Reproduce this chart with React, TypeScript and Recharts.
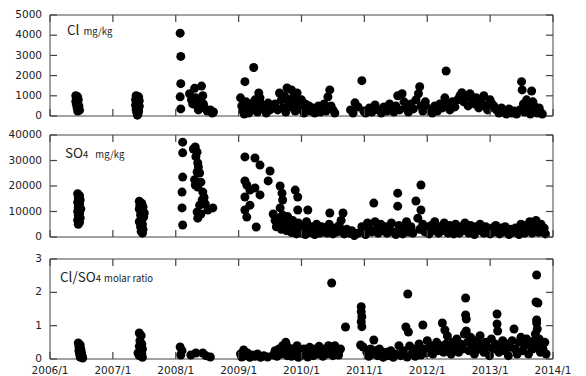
import { Scatter, ScatterChart, XAxis, YAxis } from 'recharts';

const yearTicks = [2006, 2007, 2008, 2009, 2010, 2011, 2012, 2013, 2014];
const clTicks = [0, 1000, 2000, 3000, 4000, 5000];
const so4Ticks = [0, 10000, 20000, 30000, 40000];
const ratioTicks = [0, 1, 2, 3];

// [decimal year, value]
const clPoints: [number, number][] = [
  [2006.41, 1000], [2006.44, 950], [2006.42, 880], [2006.45, 800], [2006.41, 720], [2006.44, 650],
  [2006.42, 580], [2006.46, 500], [2006.43, 420], [2006.45, 350], [2006.47, 290], [2006.44, 250],
  [2007.37, 1000], [2007.41, 950], [2007.39, 880], [2007.36, 800], [2007.42, 760], [2007.38, 700],
  [2007.4, 620], [2007.36, 540], [2007.42, 480], [2007.39, 400], [2007.37, 320], [2007.41, 250],
  [2007.38, 180], [2007.4, 110], [2007.39, 40],
  [2008.07, 4100], [2008.08, 2950], [2008.08, 1600], [2008.07, 950], [2008.08, 350],
  [2008.22, 1100], [2008.25, 800], [2008.27, 600], [2008.3, 1370], [2008.32, 900], [2008.34, 500],
  [2008.36, 300], [2008.38, 700], [2008.41, 1480], [2008.43, 1000], [2008.44, 600], [2008.46, 400],
  [2008.5, 250], [2008.55, 300], [2008.58, 150], [2008.6, 200],
  [2009.03, 900], [2009.05, 500], [2009.07, 250], [2009.09, 100], [2009.1, 1700], [2009.12, 700],
  [2009.14, 400], [2009.16, 150], [2009.19, 600], [2009.22, 300], [2009.24, 2400], [2009.26, 800],
  [2009.28, 500], [2009.3, 200], [2009.32, 1140], [2009.34, 900], [2009.36, 600], [2009.4, 350],
  [2009.44, 150], [2009.47, 640], [2009.5, 300],
  [2009.58, 600], [2009.62, 300], [2009.65, 1140], [2009.68, 800], [2009.7, 400], [2009.73, 1000],
  [2009.75, 200], [2009.77, 1390], [2009.79, 700], [2009.81, 450], [2009.84, 1290], [2009.86, 900],
  [2009.88, 500], [2009.9, 250], [2009.93, 1140], [2009.95, 700], [2009.97, 350], [2010.0, 800],
  [2010.02, 450], [2010.04, 150], [2010.06, 600], [2010.08, 300],
  [2010.12, 500], [2010.15, 250], [2010.18, 400], [2010.21, 150], [2010.24, 300], [2010.27, 500],
  [2010.3, 200], [2010.33, 350], [2010.36, 600], [2010.39, 250], [2010.42, 950], [2010.45, 1290],
  [2010.47, 500], [2010.5, 300], [2010.53, 150],
  [2010.78, 300], [2010.82, 150], [2010.85, 650], [2010.9, 450], [2010.96, 1750], [2010.99, 250],
  [2011.02, 150], [2011.08, 400], [2011.12, 200], [2011.17, 550], [2011.22, 300], [2011.27, 150],
  [2011.31, 450], [2011.36, 250], [2011.4, 600], [2011.43, 350], [2011.47, 200],
  [2011.5, 500], [2011.53, 1000], [2011.56, 300], [2011.6, 1100], [2011.63, 700], [2011.66, 400],
  [2011.7, 200], [2011.74, 600], [2011.78, 350], [2011.82, 800], [2011.86, 1100], [2011.88, 1450],
  [2011.9, 500], [2011.93, 250], [2011.97, 700], [2012.0, 400],
  [2012.05, 300], [2012.08, 150], [2012.12, 500], [2012.16, 250], [2012.2, 600], [2012.24, 400],
  [2012.28, 900], [2012.3, 2230], [2012.33, 600], [2012.36, 300], [2012.4, 700], [2012.44, 450],
  [2012.48, 800], [2012.52, 1000], [2012.55, 1150], [2012.58, 700], [2012.62, 950], [2012.65, 500],
  [2012.68, 1100], [2012.72, 800], [2012.75, 600], [2012.78, 900], [2012.82, 400], [2012.86, 700],
  [2012.9, 1000], [2012.93, 500], [2012.96, 300], [2013.0, 800], [2013.03, 600],
  [2013.06, 500], [2013.1, 300], [2013.14, 150], [2013.18, 400], [2013.22, 200], [2013.26, 100],
  [2013.3, 350], [2013.34, 150], [2013.38, 250], [2013.42, 100],
  [2013.47, 300], [2013.5, 1700], [2013.51, 1290], [2013.53, 600], [2013.55, 200], [2013.58, 800],
  [2013.61, 400], [2013.64, 100], [2013.66, 1240], [2013.68, 700], [2013.7, 500], [2013.72, 300],
  [2013.75, 150], [2013.78, 400], [2013.8, 200], [2013.83, 100],
];

const so4Points: [number, number][] = [
  [2006.44, 17000], [2006.47, 16200], [2006.45, 15300], [2006.48, 14500], [2006.44, 13600],
  [2006.47, 12800], [2006.45, 11800], [2006.49, 11000], [2006.44, 10000], [2006.47, 9200],
  [2006.45, 8400], [2006.48, 7500], [2006.44, 6600], [2006.47, 5800], [2006.45, 5000],
  [2007.42, 14000], [2007.46, 13200], [2007.43, 12500], [2007.48, 11800], [2007.42, 11000],
  [2007.46, 10200], [2007.5, 9400], [2007.44, 8600], [2007.49, 7800], [2007.45, 7000],
  [2007.42, 6000], [2007.47, 5000], [2007.44, 4000], [2007.48, 3000], [2007.45, 2200], [2007.47, 1500],
  [2008.11, 37200], [2008.11, 33000], [2008.11, 23500], [2008.1, 17600], [2008.1, 11400], [2008.11, 4700],
  [2008.28, 34500], [2008.31, 35300], [2008.34, 33300], [2008.32, 31500], [2008.35, 29000],
  [2008.36, 27500], [2008.34, 25500], [2008.38, 25100], [2008.3, 22500], [2008.4, 21500],
  [2008.31, 20400], [2008.35, 19600], [2008.43, 17600], [2008.45, 15500], [2008.42, 14500],
  [2008.47, 13000], [2008.38, 12500], [2008.51, 10600], [2008.59, 11400], [2008.34, 9800],
  [2008.4, 9000], [2008.35, 7400],
  [2009.1, 31400], [2009.26, 31000], [2009.34, 28200], [2009.5, 25900], [2009.47, 22000],
  [2009.1, 22000], [2009.13, 20400], [2009.18, 18400], [2009.26, 19200], [2009.1, 15700],
  [2009.34, 16500], [2009.18, 12500], [2009.1, 10600], [2009.13, 7800], [2009.28, 3900],
  [2009.66, 20000], [2009.69, 17200], [2009.7, 14500], [2009.66, 11400], [2009.7, 8600],
  [2009.9, 18400], [2009.94, 15700], [2009.94, 10600], [2010.1, 10600], [2010.45, 9400], [2010.66, 9400],
  [2009.55, 9000], [2009.58, 6500], [2009.6, 4000], [2009.63, 7500], [2009.66, 5500], [2009.68, 3000],
  [2009.72, 6000], [2009.74, 4500], [2009.76, 2500], [2009.78, 8000], [2009.8, 5000], [2009.82, 3500],
  [2009.84, 1800], [2009.86, 6500], [2009.88, 4000], [2009.9, 2500], [2009.92, 1200], [2009.95, 5500],
  [2009.97, 3000], [2010.0, 1500], [2010.02, 4500], [2010.04, 2500], [2010.06, 1000], [2010.08, 6000],
  [2010.11, 3500], [2010.13, 1800], [2010.16, 4000], [2010.18, 2200], [2010.21, 1000], [2010.24, 5000],
  [2010.27, 3000], [2010.29, 1500], [2010.32, 4000], [2010.35, 2000], [2010.38, 3500], [2010.41, 1500],
  [2010.44, 5000], [2010.47, 2500], [2010.5, 1200], [2010.53, 3500], [2010.57, 2000], [2010.6, 4500],
  [2010.63, 6500], [2010.65, 2500], [2010.68, 1200], [2010.72, 3000], [2010.76, 1500], [2010.8, 2500],
  [2010.84, 600], [2010.9, 1500], [2010.96, 4000], [2010.99, 2500], [2011.02, 1000], [2011.05, 5500],
  [2011.08, 3500], [2011.12, 2000], [2011.15, 13300], [2011.17, 6000], [2011.2, 3000], [2011.22, 1500],
  [2011.26, 5000], [2011.29, 2500], [2011.33, 4000], [2011.36, 1500], [2011.4, 3000], [2011.43, 5500],
  [2011.46, 2000], [2011.5, 1000], [2011.53, 17200], [2011.53, 12100], [2011.55, 4500], [2011.58, 2500],
  [2011.61, 1200], [2011.64, 3500], [2011.67, 6000], [2011.7, 2000], [2011.74, 4000], [2011.77, 1500],
  [2011.82, 14100], [2011.85, 7400], [2011.88, 3000], [2011.9, 20400], [2011.9, 10600], [2011.93, 5000],
  [2011.96, 2000], [2012.0, 3500], [2012.03, 1200], [2012.06, 4500], [2012.09, 2500], [2012.12, 6000],
  [2012.15, 3500], [2012.18, 1500], [2012.21, 4000], [2012.24, 2500], [2012.27, 5500], [2012.3, 3000],
  [2012.33, 1500], [2012.36, 4500], [2012.39, 2500], [2012.42, 1200], [2012.45, 5000], [2012.48, 3000],
  [2012.51, 1500], [2012.54, 4000], [2012.57, 2500], [2012.6, 5500], [2012.63, 3500], [2012.66, 1500],
  [2012.69, 4500], [2012.72, 2500], [2012.75, 1000], [2012.78, 4000], [2012.81, 2500], [2012.84, 5000],
  [2012.87, 3000], [2012.9, 1500], [2012.93, 4000], [2012.96, 2500], [2013.0, 1200], [2013.03, 3500],
  [2013.06, 2000], [2013.09, 4500], [2013.12, 2500], [2013.15, 1200], [2013.18, 3500], [2013.21, 2000],
  [2013.24, 4000], [2013.27, 2500], [2013.3, 1000], [2013.33, 3000], [2013.36, 1800], [2013.4, 3500],
  [2013.43, 2000], [2013.46, 1000], [2013.49, 5000], [2013.52, 3000], [2013.55, 1500], [2013.57, 4500],
  [2013.6, 2500], [2013.63, 6000], [2013.65, 3500], [2013.67, 1500], [2013.69, 5000], [2013.71, 2500],
  [2013.73, 6500], [2013.75, 4000], [2013.77, 1800], [2013.79, 3000], [2013.81, 5000], [2013.83, 2000],
  [2013.86, 3500], [2013.88, 1200],
];

const ratioPoints: [number, number][] = [
  [2006.45, 0.48], [2006.48, 0.42], [2006.46, 0.36], [2006.49, 0.3], [2006.46, 0.25], [2006.5, 0.2],
  [2006.47, 0.15], [2006.51, 0.1], [2006.48, 0.06], [2006.52, 0.03],
  [2007.42, 0.78], [2007.45, 0.7], [2007.43, 0.55], [2007.46, 0.45], [2007.42, 0.38], [2007.47, 0.3],
  [2007.43, 0.22], [2007.46, 0.15], [2007.42, 0.1], [2007.47, 0.05], [2007.4, 0.18],
  [2008.07, 0.36], [2008.08, 0.12], [2008.1, 0.25], [2008.24, 0.12], [2008.32, 0.18], [2008.43, 0.18],
  [2008.55, 0.06], [2008.48, 0.1],
  [2009.03, 0.15], [2009.05, 0.06], [2009.08, 0.27], [2009.1, 0.1], [2009.14, 0.18], [2009.18, 0.05],
  [2009.22, 0.12], [2009.26, 0.08], [2009.3, 0.15], [2009.35, 0.05], [2009.4, 0.1], [2009.46, 0.06],
  [2009.55, 0.12], [2009.58, 0.25], [2009.61, 0.08], [2009.64, 0.3], [2009.67, 0.15], [2009.7, 0.4],
  [2009.72, 0.2], [2009.75, 0.5], [2009.77, 0.1], [2009.79, 0.35], [2009.82, 0.22], [2009.84, 0.08],
  [2009.87, 0.3], [2009.9, 0.15], [2009.93, 0.4], [2009.95, 0.05], [2009.98, 0.25], [2010.01, 0.12],
  [2010.04, 0.3], [2010.07, 0.18], [2010.1, 0.06], [2010.13, 0.35], [2010.16, 0.2], [2010.19, 0.1],
  [2010.22, 0.3], [2010.25, 0.15], [2010.28, 0.38], [2010.31, 0.22], [2010.34, 0.08], [2010.37, 0.3],
  [2010.4, 0.15], [2010.43, 0.4], [2010.46, 0.25], [2010.48, 2.28], [2010.5, 0.1], [2010.53, 0.4],
  [2010.56, 0.25], [2010.59, 0.12], [2010.62, 0.3], [2010.7, 0.96],
  [2010.95, 1.57], [2010.95, 1.42], [2010.96, 1.27], [2010.95, 1.12], [2010.96, 0.97], [2010.94, 0.42],
  [2010.98, 0.36],
  [2011.04, 0.2], [2011.07, 0.08], [2011.1, 0.3], [2011.13, 0.15], [2011.15, 0.57], [2011.18, 0.25],
  [2011.21, 0.1], [2011.24, 0.3], [2011.27, 0.15], [2011.3, 0.05], [2011.34, 0.2], [2011.38, 0.1],
  [2011.42, 0.25], [2011.46, 0.05], [2011.5, 0.15], [2011.55, 0.4], [2011.58, 0.1], [2011.62, 0.25],
  [2011.66, 0.96], [2011.68, 0.06], [2011.69, 1.95], [2011.7, 0.81], [2011.72, 0.39], [2011.75, 0.15],
  [2011.78, 0.3], [2011.81, 0.08], [2011.84, 0.22], [2011.87, 0.45], [2011.9, 0.12], [2011.93, 1.02],
  [2011.95, 0.3], [2011.98, 0.18], [2012.0, 0.55], [2012.03, 0.25], [2012.06, 0.4], [2012.09, 0.15],
  [2012.12, 0.35], [2012.15, 0.5], [2012.18, 0.25], [2012.21, 0.4], [2012.24, 1.08], [2012.26, 0.2],
  [2012.28, 0.87], [2012.3, 0.45], [2012.32, 0.69], [2012.35, 0.3], [2012.38, 0.15], [2012.41, 0.5],
  [2012.44, 0.35], [2012.47, 0.6], [2012.5, 0.2], [2012.53, 0.45], [2012.56, 0.3], [2012.59, 0.75],
  [2012.61, 1.83], [2012.61, 1.32], [2012.62, 1.2], [2012.62, 0.84], [2012.64, 0.5], [2012.66, 0.25],
  [2012.69, 0.65], [2012.72, 0.4], [2012.75, 0.15], [2012.78, 0.55], [2012.81, 0.3], [2012.84, 0.7],
  [2012.87, 0.45], [2012.9, 0.2], [2012.93, 0.5], [2012.96, 0.35], [2012.99, 0.1], [2013.02, 0.6],
  [2013.05, 0.3], [2013.08, 0.45], [2013.11, 1.35], [2013.11, 1.05], [2013.12, 0.84], [2013.14, 0.2],
  [2013.17, 0.4], [2013.2, 0.55], [2013.23, 0.25], [2013.26, 0.45], [2013.29, 0.1], [2013.32, 0.35],
  [2013.35, 0.55], [2013.38, 0.9], [2013.4, 0.3], [2013.43, 0.15], [2013.46, 0.5], [2013.49, 0.65],
  [2013.52, 0.25], [2013.55, 0.4], [2013.58, 0.6], [2013.61, 0.15], [2013.64, 0.45], [2013.67, 0.3],
  [2013.7, 0.55], [2013.72, 0.75], [2013.74, 2.52], [2013.73, 1.71], [2013.76, 1.68], [2013.74, 1.17],
  [2013.74, 1.08], [2013.75, 0.9], [2013.76, 0.35], [2013.78, 0.6], [2013.8, 0.2], [2013.82, 0.45],
  [2013.84, 0.3], [2013.87, 0.5], [2013.89, 0.15],
];

const TICK_FONT = '"DejaVu Sans", sans-serif';
const LABEL_FONT = '"Noto Sans CJK JP", "Noto Sans", sans-serif';
const AXIS_COLOR = '#444';
const TICK_LEN = 7;

function Dot(props: any) {
  const { cx, cy } = props;
  return <circle cx={cx} cy={cy} r={4.5} fill="#000" />;
}

function NoDot() {
  return <g />;
}

// tick marks point into the plot, labels sit outside
function LeftTick(props: any) {
  const { x, y, payload } = props;
  return (
    <g>
      <line x1={x + 8} x2={x + 8 + TICK_LEN} y1={y} y2={y} stroke={AXIS_COLOR} strokeWidth={1.2} />
      <text x={x} y={y} dy="0.3em" textAnchor="end" fill="#222" fontSize={10.5} fontFamily={TICK_FONT}>
        {payload.value}
      </text>
    </g>
  );
}

function RightTick(props: any) {
  const { x, y } = props;
  return <line x1={x} x2={x - TICK_LEN} y1={y} y2={y} stroke={AXIS_COLOR} strokeWidth={1.2} />;
}

function TopTick(props: any) {
  const { x, y } = props;
  return <line x1={x} x2={x} y1={y} y2={y + TICK_LEN} stroke={AXIS_COLOR} strokeWidth={1.2} />;
}

function makeBottomTick(showDates: boolean) {
  return (props: any) => {
    const { x, y, payload } = props;
    return (
      <g>
        <line x1={x} x2={x} y1={y} y2={y - TICK_LEN} stroke={AXIS_COLOR} strokeWidth={1.2} />
        {showDates && (
          <text x={x} y={y + 15} textAnchor="middle" fill="#222" fontSize={10.5} fontFamily={TICK_FONT}>
            {`${payload.value}/1`}
          </text>
        )}
      </g>
    );
  };
}

interface PanelProps {
  top: number;
  height: number;
  bottomAxis: number;
  points: [number, number][];
  ticks: number[];
  showDates?: boolean;
}

function Panel({ top, height, bottomAxis, points, ticks, showDates = false }: PanelProps) {
  const data = points.map(([x, y]) => ({ x, y }));
  const max = ticks[ticks.length - 1];

  return (
    <div style={{ position: 'absolute', left: 0, top }}>
      <ScatterChart width={586} height={height} margin={{ top: 13, right: 31, bottom: 0, left: 0 }}>
        <XAxis
          xAxisId="b"
          dataKey="x"
          type="number"
          domain={[2006, 2014]}
          ticks={yearTicks}
          interval={0}
          height={bottomAxis}
          tickSize={0}
          tickMargin={0}
          tickLine={false}
          stroke={AXIS_COLOR}
          tick={makeBottomTick(showDates)}
        />
        <XAxis
          xAxisId="t"
          dataKey="x"
          orientation="top"
          type="number"
          domain={[2006, 2014]}
          ticks={yearTicks}
          interval={0}
          height={2}
          tickSize={0}
          tickMargin={0}
          tickLine={false}
          stroke={AXIS_COLOR}
          tick={TopTick}
        />
        <YAxis
          yAxisId="l"
          dataKey="y"
          type="number"
          domain={[0, max]}
          ticks={ticks}
          interval={0}
          width={50}
          tickSize={0}
          tickMargin={8}
          tickLine={false}
          stroke={AXIS_COLOR}
          tick={LeftTick}
        />
        <YAxis
          yAxisId="r"
          dataKey="y"
          orientation="right"
          type="number"
          domain={[0, max]}
          ticks={ticks}
          interval={0}
          width={2}
          tickSize={0}
          tickMargin={0}
          tickLine={false}
          stroke={AXIS_COLOR}
          tick={RightTick}
        />
        <Scatter data={data} xAxisId="b" yAxisId="l" shape={Dot} isAnimationActive={false} />
        {/* binds the frame axes so their ticks get drawn */}
        <Scatter data={data} xAxisId="t" yAxisId="r" shape={NoDot} isAnimationActive={false} />
      </ScatterChart>
    </div>
  );
}

export default function App() {
  return (
    <div style={{ position: 'absolute', left: 0, top: 0, width: 586, height: 376, background: '#fff' }}>
      <Panel top={0} height={124} bottomAxis={8} points={clPoints} ticks={clTicks} />
      <Panel top={120} height={125} bottomAxis={8} points={so4Points} ticks={so4Ticks} />
      <Panel top={244} height={132} bottomAxis={17} points={ratioPoints} ticks={ratioTicks} showDates />
      <svg
        width={586}
        height={376}
        style={{ position: 'absolute', left: 0, top: 0, pointerEvents: 'none' }}
        fontFamily={LABEL_FONT}
        fill="#222"
      >
        <text x={67} y={35} fontSize={13.5}>
          Cl<tspan fontSize={9.5} dx={4}>mg/kg</tspan>
        </text>
        <text x={65} y={158} fontSize={13.5}>
          SO<tspan fontSize={9.5}>4</tspan>
          <tspan fontSize={9.5} dx={7}>mg/kg</tspan>
        </text>
        <text x={60} y={282} fontSize={13.5}>
          Cl/SO<tspan fontSize={9.5}>4</tspan>
          <tspan fontSize={9.5} dx={3}>molar ratio</tspan>
        </text>
      </svg>
    </div>
  );
}
